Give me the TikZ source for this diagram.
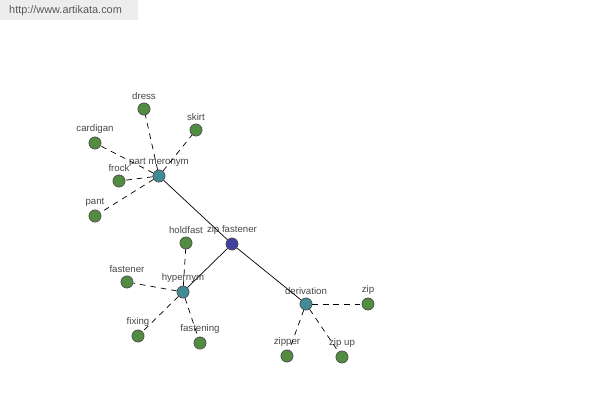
\documentclass[tikz,border=0pt]{standalone}
\usepackage{fontspec}
\setmainfont{Liberation Sans}
\usepackage{tikz}

\definecolor{leafgreen}{RGB}{82,140,64}
\definecolor{reltealc}{RGB}{64,140,150}
\definecolor{rootblue}{RGB}{64,64,160}
\definecolor{txtgray}{RGB}{70,70,70}

\tikzset{
  dot/.style={circle, draw=black!70, thin, inner sep=0pt, minimum size=6.9pt},
  leaf/.style={dot, fill=leafgreen},
  rel/.style={dot, fill=reltealc},
  root/.style={dot, fill=rootblue},
  lbl/.style={font=\fontsize{5.5}{6}\selectfont, text=txtgray, inner sep=0.5pt},
  dashlink/.style={thin, dash pattern=on 3.2pt off 2.8pt},
  link/.style={thin}
}

\begin{document}
\begin{tikzpicture}[x=0.02cm, y=-0.02cm, label distance=1pt]
  \useasboundingbox (0,0) rectangle (600,400);
  \fill[black!7] (0,0) rectangle (138,20);
  \node[lbl, anchor=west, font=\fontsize{6.2}{7}\selectfont, text=black!65] (site) at (8,11) {http://www.artikata.com};

  % centre and relation nodes
  \node[root, label={[lbl]above:zip fastener}] (zipfast) at (232,244) {};
  \node[rel, label={[lbl]above:part meronym}] (partmer) at (159,176) {};
  \node[rel, label={[lbl]above:hypernym}] (hyper) at (183,292) {};
  \node[rel, label={[lbl]above:derivation}] (deriv) at (306,304) {};

  % leaves
  \node[leaf, label={[lbl]above:dress}] (dress) at (144,109) {};
  \node[leaf, label={[lbl]above:skirt}] (skirt) at (196,130) {};
  \node[leaf, label={[lbl]above:cardigan}] (cardigan) at (95,143) {};
  \node[leaf, label={[lbl]above:frock}] (frock) at (119,181) {};
  \node[leaf, label={[lbl]above:pant}] (pant) at (95,216) {};
  \node[leaf, label={[lbl]above:holdfast}] (holdfast) at (186,243) {};
  \node[leaf, label={[lbl]above:fastener}] (fastener) at (127,282) {};
  \node[leaf, label={[lbl]above:fixing}] (fixing) at (138,336) {};
  \node[leaf, label={[lbl]above:fastening}] (fastening) at (200,343) {};
  \node[leaf, label={[lbl]above:zip}] (zip) at (368,304) {};
  \node[leaf, label={[lbl]above:zipper}] (zipper) at (287,356) {};
  \node[leaf, label={[lbl]above:zip up}] (zipup) at (342,357) {};

  % connectors
  \foreach \r in {partmer,hyper,deriv}
  {
  \draw[link] (zipfast) -- (\r);
  }
  \foreach \l in {dress,skirt,cardigan,frock,pant}
  {
  \draw[dashlink] (partmer) -- (\l);
  }
  \foreach \l in {holdfast,fastener,fixing,fastening}
  {
  \draw[dashlink] (hyper) -- (\l);
  }
  \foreach \l in {zip,zipper,zipup}
  {
  \draw[dashlink] (deriv) -- (\l);
  }

\end{tikzpicture}
\end{document}
